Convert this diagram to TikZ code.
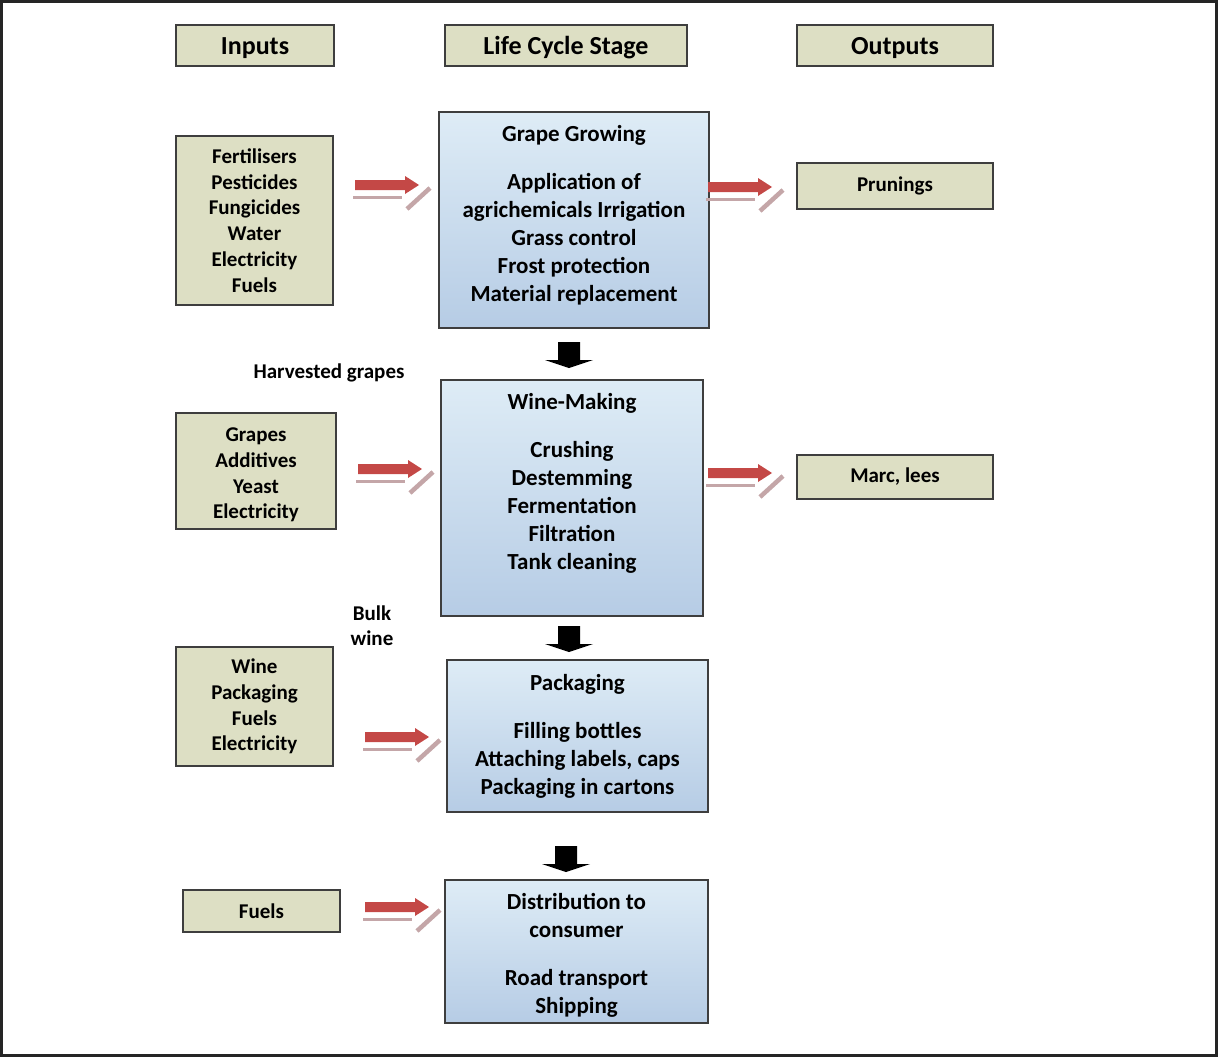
\documentclass[tikz,border=0pt]{standalone}
\usepackage{fontspec}
\setmainfont{Carlito}
\usetikzlibrary{positioning}

\definecolor{beige}{RGB}{221,223,196}
\definecolor{stagetop}{RGB}{222,236,246}
\definecolor{stagebot}{RGB}{182,204,229}
\definecolor{framegray}{RGB}{62,62,62}
\definecolor{arrowred}{RGB}{196,72,70}
\definecolor{arrowshade}{RGB}{196,166,168}

\tikzset{box/.style = {draw=framegray, line width=1.2pt, inner sep=0pt, align=center},
         inbox/.style = {box, fill=beige, font=\fontsize{21}{25.8}\selectfont\bfseries},
         headbox/.style = {box, fill=beige, minimum height=41pt, text height=20pt, text depth=2pt,
                           font=\fontsize{26}{30}\selectfont\bfseries},
         stagebox/.style = {box, top color=stagetop, bottom color=stagebot},
         stagetext/.style = {inner sep=0pt, align=center, font=\fontsize{23}{28}\selectfont\bfseries},
         note/.style = {inner sep=0pt, align=center, font=\fontsize{21}{25}\selectfont\bfseries},
         redflow/.pic = {\fill[arrowred] (0,-5) -- (50,-5) -- (50,-9) -- (64,0) -- (50,9) -- (50,5) -- (0,5) -- cycle;
                         \draw[arrowshade, line width=3pt] (-2,12) -- (47,12);
                         \draw[arrowshade, line width=4.5pt] (52,24) -- (75,3);},
         blockdown/.pic = {\fill[black] (-11,0) -- (11,0) -- (11,18) -- (24,18) -- (0,26) -- (-24,18) -- (-11,18) -- cycle;}
        }

\begin{document}
\begin{tikzpicture}[x=1pt, y=-1pt]
  \useasboundingbox (0,0) rectangle (1218,1057);
  \draw[framegray!60!black, line width=3pt] (1.5,1.5) rectangle (1216.5,1055);

  % column headers
  \node[headbox, minimum width=158pt] (hin) at (255,45.5) {Inputs};
  \node[headbox, minimum width=242pt] (hstage) at (566,45.5) {Life Cycle Stage};
  \node[headbox, minimum width=196pt] (hout) at (895,45.5) {Outputs};

  % stages
  \node[stagebox, minimum width=270pt, minimum height=216pt] (grow) at (574,220) {};
  \node[stagetext, below=14pt of grow.north] (growtxt) {Grape Growing\\[20pt] Application of\\ agrichemicals Irrigation\\ Grass control\\ Frost protection\\ Material replacement};
  \node[stagebox, minimum width=262pt, minimum height=236pt] (wine) at (572,498) {};
  \node[stagetext, below=14pt of wine.north] (winetxt) {Wine-Making\\[20pt] Crushing\\ Destemming\\ Fermentation\\ Filtration\\ Tank cleaning};
  \node[stagebox, minimum width=261pt, minimum height=152pt] (pack) at (577.5,736) {};
  \node[stagetext, below=15pt of pack.north] (packtxt) {Packaging\\[20pt] Filling bottles\\ Attaching labels, caps\\ Packaging in cartons};
  \node[stagebox, minimum width=263pt, minimum height=143pt] (dist) at (576.5,951.5) {};
  \node[stagetext, below=14pt of dist.north] (disttxt) {Distribution to\\ consumer\\[20pt] Road transport\\ Shipping};

  % inputs
  \node[inbox, minimum width=157pt, minimum height=169pt] (in1) at (254.5,220.5) {Fertilisers\\ Pesticides\\ Fungicides\\ Water\\ Electricity\\ Fuels};
  \node[inbox, minimum width=160pt, minimum height=116pt] (in2) at (256,471) {\\[-4pt] Grapes\\ Additives\\ Yeast\\ Electricity};
  \node[inbox, minimum width=157pt, minimum height=119pt] (in3) at (254.5,706.5) {Wine\\ Packaging\\ Fuels\\ Electricity};
  \node[inbox, minimum width=157pt, minimum height=42pt] (in4) at (261.5,911) {Fuels};

  % outputs
  \node[inbox, minimum width=196pt, minimum height=46pt] (out1) at (895,186) {Prunings};
  \node[inbox, minimum width=196pt, minimum height=44pt] (out2) at (895,477) {Marc, lees};

  % notes
  \node[note] (harv) at (329,373) {Harvested grapes};
  \node[note] (bulk) at (372,625.5) {Bulk\\ wine};

  % flows
  \coordinate (f1) at (355,185);
  \coordinate (f2) at (708,187);
  \coordinate (f3) at (358,469);
  \coordinate (f4) at (708,473);
  \coordinate (f5) at (365,737);
  \coordinate (f6) at (365,907);
  \foreach \f in {f1,f2,f3,f4,f5,f6}
    \pic at (\f) {redflow};

  \coordinate (d1) at (569,342);
  \coordinate (d2) at (569,626);
  \coordinate (d3) at (566,846);
  \foreach \d in {d1,d2,d3}
    \pic at (\d) {blockdown};
\end{tikzpicture}
\end{document}
